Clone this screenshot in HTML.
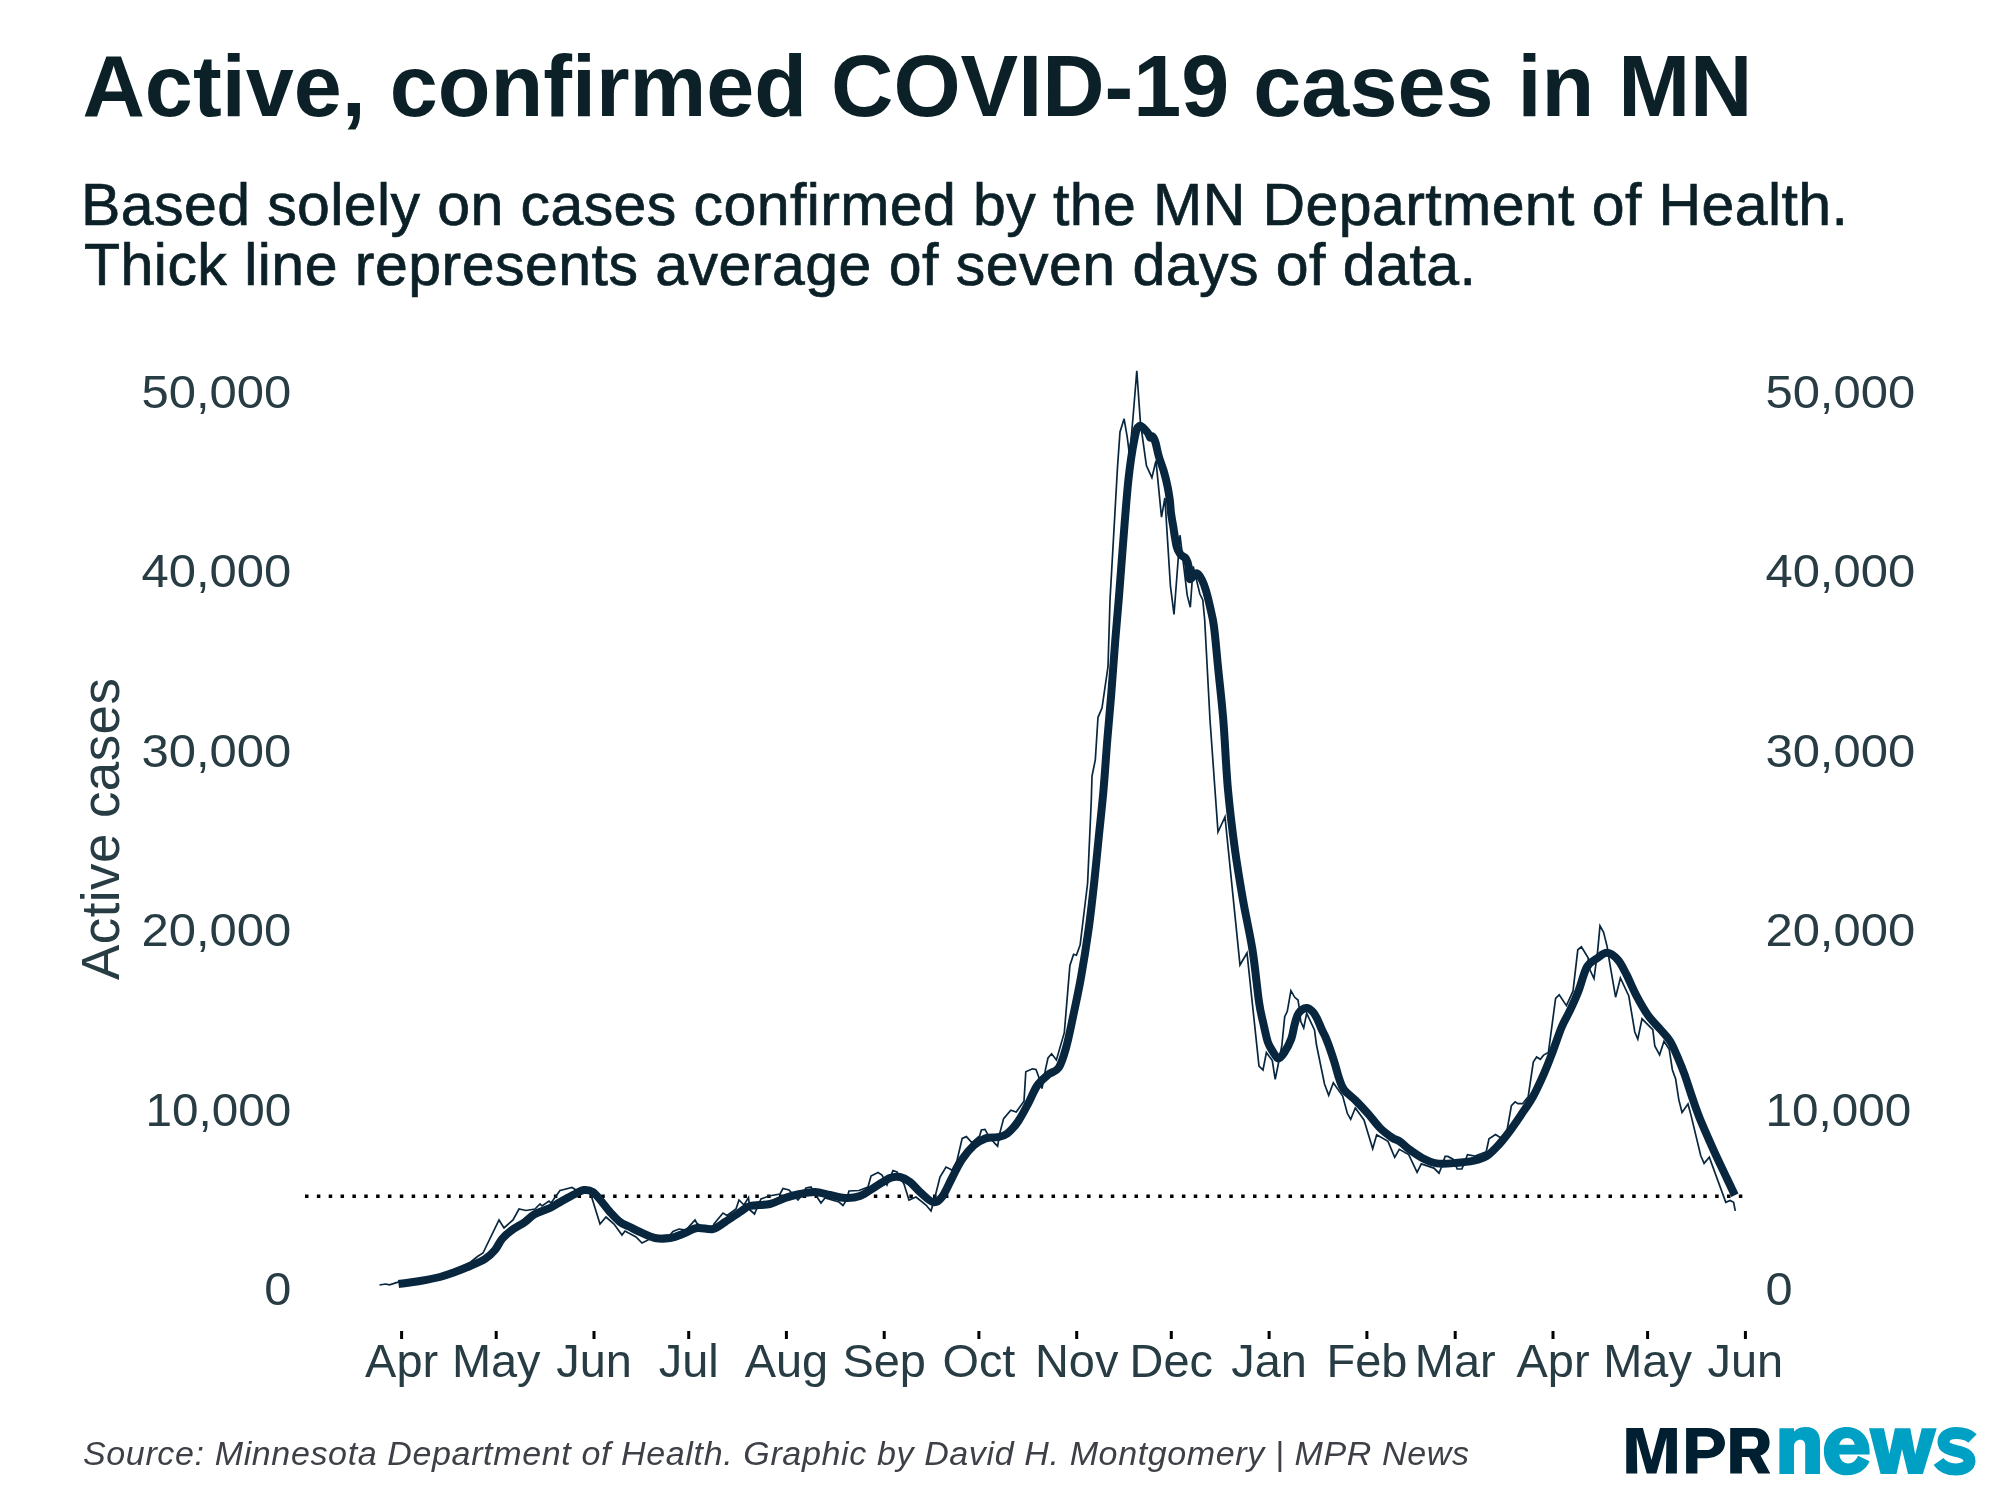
<!DOCTYPE html>
<html><head><meta charset="utf-8"><style>
html,body{margin:0;padding:0;background:#fff;width:2000px;height:1500px;overflow:hidden}
svg{display:block;will-change:transform}
text{font-family:"Liberation Sans",sans-serif}
.ax{font-size:46px;fill:#283c44}
.ay{font-size:46px;fill:#283c44}
</style></head><body>
<svg width="2000" height="1500" viewBox="0 0 2000 1500">
<rect width="2000" height="1500" fill="#fff"/>
<text x="82.5" y="116" font-size="87.4" font-weight="bold" fill="#0b2127" textLength="1670" lengthAdjust="spacingAndGlyphs">Active, confirmed COVID-19 cases in MN</text>
<text x="81" y="224.6" font-size="59" fill="#0b2127" stroke="#0b2127" stroke-width="0.7" textLength="1767" lengthAdjust="spacing">Based solely on cases confirmed by the MN Department of Health.</text>
<text x="84" y="284.7" font-size="59" fill="#0b2127" stroke="#0b2127" stroke-width="0.7" textLength="1392" lengthAdjust="spacing">Thick line represents average of seven days of data.</text>
<text transform="translate(119.4,980) rotate(-90)" x="0" y="0" font-size="53" fill="#283c44" textLength="302" lengthAdjust="spacing">Active cases</text>
<text transform="translate(291.3,1305.0) scale(1.06,1)" text-anchor="end" class="ay">0</text>
<text transform="translate(1765.4,1305.0) scale(1.06,1)" text-anchor="start" class="ay">0</text>
<text transform="translate(291.3,1125.6) scale(1.037,1)" text-anchor="end" class="ay">10,000</text>
<text transform="translate(1765.4,1125.6) scale(1.037,1)" text-anchor="start" class="ay">10,000</text>
<text transform="translate(291.3,946.2) scale(1.065,1)" text-anchor="end" class="ay">20,000</text>
<text transform="translate(1765.4,946.2) scale(1.065,1)" text-anchor="start" class="ay">20,000</text>
<text transform="translate(291.3,766.8) scale(1.065,1)" text-anchor="end" class="ay">30,000</text>
<text transform="translate(1765.4,766.8) scale(1.065,1)" text-anchor="start" class="ay">30,000</text>
<text transform="translate(291.3,587.4) scale(1.065,1)" text-anchor="end" class="ay">40,000</text>
<text transform="translate(1765.4,587.4) scale(1.065,1)" text-anchor="start" class="ay">40,000</text>
<text transform="translate(291.3,408.0) scale(1.065,1)" text-anchor="end" class="ay">50,000</text>
<text transform="translate(1765.4,408.0) scale(1.065,1)" text-anchor="start" class="ay">50,000</text>

<rect x="400.1" y="1331" width="3" height="8" fill="#000"/>
<rect x="494.7" y="1331" width="3" height="8" fill="#000"/>
<rect x="592.5" y="1331" width="3" height="8" fill="#000"/>
<rect x="687.2" y="1331" width="3" height="8" fill="#000"/>
<rect x="784.9" y="1331" width="3" height="8" fill="#000"/>
<rect x="882.7" y="1331" width="3" height="8" fill="#000"/>
<rect x="977.4" y="1331" width="3" height="8" fill="#000"/>
<rect x="1075.2" y="1331" width="3" height="8" fill="#000"/>
<rect x="1169.8" y="1331" width="3" height="8" fill="#000"/>
<rect x="1267.6" y="1331" width="3" height="8" fill="#000"/>
<rect x="1365.4" y="1331" width="3" height="8" fill="#000"/>
<rect x="1453.7" y="1331" width="3" height="8" fill="#000"/>
<rect x="1551.5" y="1331" width="3" height="8" fill="#000"/>
<rect x="1646.1" y="1331" width="3" height="8" fill="#000"/>
<rect x="1743.9" y="1331" width="3" height="8" fill="#000"/>

<text transform="translate(401.6,1377) scale(1.02,1)" text-anchor="middle" class="ax">Apr</text>
<text transform="translate(496.2,1377) scale(1.02,1)" text-anchor="middle" class="ax">May</text>
<text transform="translate(594.0,1377) scale(1.02,1)" text-anchor="middle" class="ax">Jun</text>
<text transform="translate(688.7,1377) scale(1.02,1)" text-anchor="middle" class="ax">Jul</text>
<text transform="translate(786.4,1377) scale(1.02,1)" text-anchor="middle" class="ax">Aug</text>
<text transform="translate(884.2,1377) scale(1.02,1)" text-anchor="middle" class="ax">Sep</text>
<text transform="translate(978.9,1377) scale(1.02,1)" text-anchor="middle" class="ax">Oct</text>
<text transform="translate(1076.7,1377) scale(1.02,1)" text-anchor="middle" class="ax">Nov</text>
<text transform="translate(1171.3,1377) scale(1.02,1)" text-anchor="middle" class="ax">Dec</text>
<text transform="translate(1269.1,1377) scale(1.02,1)" text-anchor="middle" class="ax">Jan</text>
<text transform="translate(1366.9,1377) scale(1.02,1)" text-anchor="middle" class="ax">Feb</text>
<text transform="translate(1455.2,1377) scale(1.02,1)" text-anchor="middle" class="ax">Mar</text>
<text transform="translate(1553.0,1377) scale(1.02,1)" text-anchor="middle" class="ax">Apr</text>
<text transform="translate(1647.6,1377) scale(1.02,1)" text-anchor="middle" class="ax">May</text>
<text transform="translate(1745.4,1377) scale(1.02,1)" text-anchor="middle" class="ax">Jun</text>

<line x1="305" y1="1196.3" x2="1745" y2="1196.3" stroke="#000" stroke-width="3.5" stroke-dasharray="3.5 8.35"/>
<path d="M379.5,1285.0 L385.5,1284.0 L389.5,1284.8 L398.0,1282.2 L420.0,1279.0 L440.0,1275.0 L455.0,1270.0 L470.0,1262.5 L477.5,1256.5 L483.0,1253.0 L499.0,1220.0 L504.0,1228.0 L513.0,1220.0 L519.0,1209.0 L526.0,1210.5 L535.0,1209.0 L540.0,1204.0 L542.0,1206.0 L549.0,1201.0 L551.0,1203.0 L560.0,1190.5 L562.0,1190.0 L572.0,1187.5 L576.0,1190.0 L584.0,1187.0 L591.0,1195.0 L600.0,1224.0 L606.0,1217.0 L614.0,1224.0 L622.0,1235.0 L625.0,1231.0 L636.0,1237.0 L642.0,1243.0 L646.0,1241.0 L655.0,1236.0 L670.0,1235.0 L673.0,1231.5 L679.0,1229.0 L686.0,1230.0 L695.0,1220.0 L697.0,1223.5 L705.0,1228.0 L713.0,1228.0 L714.0,1224.0 L723.0,1213.0 L727.0,1215.5 L736.0,1209.0 L739.0,1200.0 L744.0,1205.0 L748.5,1197.5 L750.0,1210.0 L754.5,1214.0 L757.0,1208.0 L761.0,1199.0 L769.0,1196.0 L780.0,1194.0 L783.0,1188.5 L789.0,1190.0 L798.0,1200.0 L800.0,1197.5 L806.0,1188.0 L811.0,1187.0 L817.0,1197.0 L821.0,1203.0 L825.0,1198.0 L839.0,1202.0 L843.0,1205.5 L846.0,1201.0 L849.0,1191.0 L859.0,1190.5 L868.0,1187.0 L871.0,1176.0 L878.0,1172.5 L882.0,1175.0 L887.0,1185.0 L893.0,1170.5 L897.0,1172.0 L904.0,1184.0 L909.0,1200.0 L916.0,1197.0 L926.0,1205.0 L931.0,1211.0 L935.0,1197.0 L940.0,1177.0 L946.0,1167.0 L950.0,1169.0 L952.0,1170.2 L956.8,1161.2 L962.2,1138.4 L966.4,1136.6 L971.8,1142.6 L979.6,1136.0 L981.4,1130.0 L985.0,1129.4 L988.0,1134.8 L994.6,1143.2 L997.6,1146.2 L1000.0,1132.4 L1003.6,1118.6 L1010.8,1110.2 L1016.2,1112.0 L1024.0,1101.2 L1025.8,1071.8 L1032.4,1068.8 L1036.0,1069.4 L1038.4,1076.0 L1042.0,1088.6 L1045.6,1068.8 L1048.0,1058.0 L1051.6,1053.8 L1056.4,1060.0 L1064.3,1032.7 L1069.9,965.5 L1073.6,954.3 L1076.4,955.2 L1080.1,945.0 L1087.6,883.3 L1091.3,800.0 L1092.0,776.0 L1095.3,760.0 L1098.0,717.3 L1102.0,708.0 L1108.0,666.7 L1110.0,600.0 L1117.6,465.6 L1120.0,432.0 L1124.1,418.8 L1127.2,436.8 L1129.6,456.0 L1133.2,415.2 L1136.8,370.8 L1140.4,422.4 L1146.4,465.6 L1151.9,477.6 L1156.0,460.8 L1161.5,517.2 L1164.9,498.0 L1170.4,585.6 L1174.0,614.4 L1180.0,535.2 L1187.2,595.2 L1190.3,607.2 L1193.2,566.4 L1199.9,594.0 L1202.8,600.0 L1204.7,620.0 L1210.0,720.0 L1215.0,790.0 L1218.0,832.0 L1225.0,817.0 L1240.0,965.0 L1247.0,953.0 L1259.0,1066.0 L1263.0,1070.0 L1266.4,1052.6 L1272.3,1060.6 L1275.2,1079.3 L1278.1,1065.0 L1281.8,1046.0 L1284.7,1016.7 L1287.3,1011.3 L1290.9,990.7 L1294.7,997.3 L1298.0,1000.0 L1299.3,1008.0 L1300.7,1021.3 L1303.7,1028.0 L1306.7,1013.3 L1314.5,1030.0 L1316.5,1045.0 L1324.5,1084.0 L1328.7,1095.3 L1333.3,1082.7 L1342.7,1096.0 L1347.3,1113.3 L1350.7,1119.3 L1355.3,1108.0 L1364.0,1120.0 L1372.7,1148.7 L1376.7,1134.7 L1388.0,1141.3 L1394.7,1157.3 L1399.3,1149.3 L1408.7,1154.6 L1417.1,1172.3 L1421.3,1163.9 L1433.9,1168.1 L1439.0,1173.2 L1441.4,1167.2 L1445.1,1156.4 L1447.9,1156.4 L1453.0,1159.2 L1457.2,1169.0 L1461.9,1169.0 L1467.5,1154.6 L1475.0,1156.0 L1486.2,1151.8 L1489.0,1138.7 L1495.5,1134.5 L1500.6,1137.8 L1506.7,1132.2 L1511.4,1105.6 L1515.1,1101.8 L1517.9,1103.7 L1522.6,1103.7 L1528.2,1096.7 L1533.3,1062.1 L1536.6,1057.0 L1540.3,1059.3 L1543.6,1055.1 L1548.4,1052.4 L1555.6,998.4 L1559.2,994.8 L1566.4,1005.6 L1573.0,991.2 L1577.8,949.8 L1581.4,946.8 L1588.0,957.6 L1589.8,969.6 L1594.0,978.6 L1597.6,951.6 L1600.0,925.8 L1603.6,932.4 L1607.2,946.8 L1609.6,962.4 L1615.6,997.2 L1620.4,978.0 L1628.8,996.0 L1634.8,1032.0 L1637.8,1039.2 L1642.0,1018.8 L1652.8,1029.6 L1654.8,1046.0 L1659.6,1054.8 L1664.0,1041.2 L1669.2,1049.2 L1672.4,1070.0 L1675.6,1078.8 L1678.8,1099.6 L1682.0,1112.4 L1688.0,1104.0 L1691.1,1115.6 L1700.7,1155.5 L1704.1,1163.3 L1709.3,1157.2 L1725.8,1202.3 L1730.1,1200.5 L1733.6,1202.3 L1735.3,1210.9" fill="none" stroke="#08273f" stroke-width="1.7" stroke-linejoin="miter"/>
<path d="M398.5,1284.0 C402.1,1283.5 413.1,1282.2 420.0,1281.0 C426.9,1279.8 434.2,1278.5 440.0,1277.0 C445.8,1275.5 450.0,1273.8 455.0,1272.0 C460.0,1270.2 465.0,1268.2 470.0,1266.0 C475.0,1263.8 480.8,1261.7 485.0,1259.0 C489.2,1256.3 492.2,1253.3 495.0,1250.0 C497.8,1246.7 499.2,1242.3 502.0,1239.0 C504.8,1235.7 508.2,1232.8 512.0,1230.0 C515.8,1227.2 521.2,1224.7 525.0,1222.0 C528.8,1219.3 530.8,1216.3 535.0,1214.0 C539.2,1211.7 545.5,1210.2 550.0,1208.0 C554.5,1205.8 557.8,1203.3 562.0,1201.0 C566.2,1198.7 571.3,1195.8 575.0,1194.0 C578.7,1192.2 581.0,1190.3 584.0,1190.0 C587.0,1189.7 590.0,1190.0 593.0,1192.0 C596.0,1194.0 599.2,1198.7 602.0,1202.0 C604.8,1205.3 607.0,1208.7 610.0,1212.0 C613.0,1215.3 616.7,1219.5 620.0,1222.0 C623.3,1224.5 626.7,1225.3 630.0,1227.0 C633.3,1228.7 635.8,1230.2 640.0,1232.0 C644.2,1233.8 650.0,1237.0 655.0,1238.0 C660.0,1239.0 665.0,1238.8 670.0,1238.0 C675.0,1237.2 680.5,1234.7 685.0,1233.0 C689.5,1231.3 692.3,1228.7 697.0,1228.0 C701.7,1227.3 708.3,1230.0 713.0,1229.0 C717.7,1228.0 720.5,1224.8 725.0,1222.0 C729.5,1219.2 735.8,1214.7 740.0,1212.0 C744.2,1209.3 745.0,1207.3 750.0,1206.0 C755.0,1204.7 764.2,1205.3 770.0,1204.0 C775.8,1202.7 780.0,1199.7 785.0,1198.0 C790.0,1196.3 795.0,1195.0 800.0,1194.0 C805.0,1193.0 810.0,1191.8 815.0,1192.0 C820.0,1192.2 825.0,1194.0 830.0,1195.0 C835.0,1196.0 840.0,1197.8 845.0,1198.0 C850.0,1198.2 855.0,1197.8 860.0,1196.0 C865.0,1194.2 870.0,1190.0 875.0,1187.0 C880.0,1184.0 885.8,1179.7 890.0,1178.0 C894.2,1176.3 896.7,1176.3 900.0,1177.0 C903.3,1177.7 906.7,1179.5 910.0,1182.0 C913.3,1184.5 916.2,1188.7 920.0,1192.0 C923.8,1195.3 929.3,1201.2 933.0,1202.0 C936.7,1202.8 938.8,1201.0 942.0,1197.0 C945.2,1193.0 948.7,1184.2 952.0,1178.0 C955.3,1171.8 958.0,1165.4 961.6,1160.0 C965.2,1154.6 969.6,1149.2 973.6,1145.6 C977.6,1142.0 981.6,1139.8 985.6,1138.4 C989.6,1137.0 994.0,1138.0 997.6,1137.2 C1001.2,1136.4 1003.8,1136.2 1007.2,1133.6 C1010.6,1131.0 1014.4,1126.8 1018.0,1121.6 C1021.6,1116.4 1025.6,1108.4 1028.8,1102.4 C1032.0,1096.4 1034.0,1090.2 1037.2,1085.6 C1040.4,1081.0 1044.4,1077.8 1048.0,1074.8 C1051.6,1071.8 1055.8,1072.1 1058.8,1067.6 C1061.8,1063.1 1063.6,1056.5 1066.1,1047.6 C1068.6,1038.7 1071.1,1025.8 1073.6,1014.0 C1076.1,1002.2 1078.6,990.7 1081.1,976.7 C1083.6,962.7 1086.3,945.6 1088.5,930.0 C1090.7,914.4 1092.4,898.8 1094.1,883.3 C1095.8,867.8 1097.2,852.2 1098.8,836.7 C1100.4,821.2 1102.1,806.1 1103.5,790.0 C1104.9,773.9 1106.0,756.1 1107.3,740.0 C1108.6,723.9 1110.0,710.0 1111.3,693.3 C1112.6,676.6 1114.1,655.5 1115.3,640.0 C1116.5,624.5 1117.5,614.7 1118.7,600.0 C1119.9,585.3 1120.8,572.0 1122.4,552.0 C1124.0,532.0 1126.4,498.8 1128.4,480.0 C1130.4,461.2 1132.6,448.2 1134.4,439.2 C1136.2,430.2 1137.0,427.1 1139.2,426.0 C1141.4,424.9 1145.7,430.6 1147.5,432.5 C1149.3,434.4 1149.2,436.8 1150.0,437.5 C1150.8,438.2 1151.6,435.7 1152.5,436.5 C1153.4,437.3 1154.5,439.2 1155.5,442.5 C1156.5,445.8 1157.4,451.3 1158.7,456.0 C1160.0,460.7 1162.1,465.6 1163.6,470.7 C1165.1,475.8 1166.6,481.8 1167.6,486.7 C1168.6,491.6 1169.2,495.6 1169.8,500.0 C1170.4,504.4 1170.4,508.6 1171.0,513.0 C1171.6,517.5 1172.3,521.1 1173.3,526.7 C1174.2,532.3 1175.5,542.0 1176.7,546.7 C1177.9,551.4 1179.2,552.7 1180.7,554.7 C1182.2,556.7 1184.7,556.7 1186.0,558.7 C1187.3,560.8 1188.1,563.6 1188.7,567.0 C1189.3,570.4 1188.5,578.0 1189.8,579.0 C1191.1,580.0 1194.7,573.1 1196.7,573.3 C1198.7,573.5 1200.5,577.1 1202.0,580.0 C1203.5,582.9 1204.7,586.2 1206.0,590.7 C1207.3,595.2 1208.7,600.7 1210.0,606.7 C1211.3,612.7 1212.7,616.7 1214.0,626.7 C1215.3,636.7 1216.5,651.2 1218.0,666.7 C1219.5,682.2 1221.6,699.5 1223.3,720.0 C1225.0,740.5 1226.0,768.3 1228.0,790.0 C1230.0,811.7 1232.5,831.7 1235.0,850.0 C1237.5,868.3 1240.1,883.3 1243.0,900.0 C1245.9,916.7 1249.8,933.0 1252.5,950.0 C1255.2,967.0 1257.2,989.7 1259.0,1002.0 C1260.8,1014.3 1262.0,1017.3 1263.5,1024.0 C1265.0,1030.7 1266.3,1037.7 1267.9,1042.3 C1269.5,1046.9 1271.3,1049.1 1273.0,1051.8 C1274.7,1054.5 1276.3,1058.3 1278.1,1058.5 C1279.9,1058.7 1281.8,1056.3 1284.0,1053.0 C1286.2,1049.7 1289.5,1043.4 1291.3,1038.7 C1293.0,1034.0 1293.3,1029.3 1294.5,1025.0 C1295.7,1020.7 1296.7,1015.8 1298.7,1013.0 C1300.7,1010.2 1304.1,1008.2 1306.5,1008.0 C1308.9,1007.8 1311.1,1010.0 1313.0,1012.0 C1314.9,1014.0 1316.2,1017.0 1317.7,1020.0 C1319.2,1023.0 1320.5,1026.7 1322.0,1030.0 C1323.5,1033.3 1324.8,1035.0 1326.7,1040.0 C1328.7,1045.0 1331.7,1053.7 1333.7,1060.0 C1335.8,1066.3 1337.3,1073.1 1339.0,1078.0 C1340.7,1082.9 1341.2,1085.8 1344.0,1089.6 C1346.8,1093.4 1352.0,1096.8 1356.0,1100.8 C1360.0,1104.8 1364.0,1109.1 1368.0,1113.6 C1372.0,1118.1 1376.0,1124.0 1380.0,1128.0 C1384.0,1132.0 1388.7,1135.3 1392.0,1137.6 C1395.3,1139.9 1397.2,1139.7 1400.0,1141.6 C1402.8,1143.5 1404.9,1146.2 1408.7,1149.0 C1412.5,1151.8 1418.0,1155.9 1422.7,1158.3 C1427.4,1160.7 1431.2,1162.6 1436.7,1163.4 C1442.2,1164.2 1449.2,1163.5 1455.4,1163.0 C1461.6,1162.5 1468.9,1161.7 1474.0,1160.6 C1479.1,1159.5 1482.3,1158.8 1486.2,1156.4 C1490.1,1154.0 1493.8,1149.9 1497.4,1146.2 C1501.0,1142.5 1503.7,1139.1 1507.6,1134.0 C1511.5,1128.9 1516.5,1121.6 1520.7,1115.4 C1524.9,1109.2 1529.0,1103.7 1532.9,1096.7 C1536.8,1089.7 1540.9,1080.5 1544.1,1073.3 C1547.3,1066.1 1549.1,1061.3 1552.0,1053.6 C1554.9,1045.9 1558.6,1034.4 1561.6,1027.2 C1564.6,1020.0 1567.2,1016.4 1570.0,1010.4 C1572.8,1004.4 1575.6,998.4 1578.4,991.2 C1581.2,984.0 1583.8,972.6 1586.8,967.2 C1589.8,961.8 1593.0,961.2 1596.4,958.8 C1599.8,956.4 1603.6,952.6 1607.2,952.8 C1610.8,953.0 1614.8,956.4 1618.0,960.0 C1621.2,963.6 1623.4,968.6 1626.4,974.4 C1629.4,980.2 1632.4,988.0 1636.0,994.8 C1639.6,1001.6 1644.0,1009.5 1648.0,1015.2 C1652.0,1020.9 1656.3,1024.7 1660.0,1029.0 C1663.7,1033.3 1667.0,1036.2 1670.0,1041.0 C1673.0,1045.8 1675.6,1052.5 1678.0,1058.0 C1680.4,1063.5 1682.1,1067.7 1684.4,1074.0 C1686.7,1080.3 1689.1,1088.3 1691.6,1095.6 C1694.1,1102.9 1695.9,1108.9 1699.6,1118.0 C1703.3,1127.1 1709.2,1140.3 1713.7,1150.3 C1718.2,1160.3 1723.2,1170.5 1726.7,1178.0 C1730.2,1185.5 1733.5,1192.4 1734.9,1195.3" fill="none" stroke="#08273f" stroke-width="8" stroke-linejoin="round" stroke-linecap="butt"/>
<text x="83" y="1465" font-size="34" font-style="italic" fill="#3d4047" textLength="1386" lengthAdjust="spacing">Source: Minnesota Department of Health. Graphic by David H. Montgomery | MPR News</text>
<g fill="#001f30" fill-rule="evenodd">
<path d="M1626.25,1428 L1642.9,1428 L1651.5,1460 L1660,1428 L1676.9,1428 L1676.9,1473.5 L1665.9,1473.5 L1666.5,1437.5 L1656.4,1473.5 L1646.8,1473.5 L1636.6,1437.5 L1637.3,1473.5 L1626.25,1473.5 Z"/>
<path d="M1686.1,1428 H1706.8 C1717.5,1428 1725,1434.5 1725,1443.1 C1725,1451.7 1717.5,1458.2 1706.8,1458.2 H1697.4 V1473.5 H1686.1 Z M1697.4,1436.6 H1706 C1711,1436.6 1714,1439.5 1714,1443.4 C1714,1447.2 1711,1450.1 1706,1450.1 H1697.4 Z"/>
<path d="M1730.2,1428 H1754.5 C1764,1428 1769.6,1434 1769.6,1442.5 C1769.6,1449 1766,1453.5 1760.5,1455.5 L1770.3,1473.5 H1758.1 L1749.1,1456.9 H1741.9 V1473.5 H1730.2 Z M1741.9,1436.6 H1753.5 C1756.5,1436.6 1758.1,1439.5 1758.1,1442.7 C1758.1,1446 1756.5,1448.75 1753.5,1448.75 H1741.9 Z"/>
</g>
<g fill="#009fc4" fill-rule="evenodd">
<path d="M1779.4,1428.2 H1794 V1431.5 C1797,1428.5 1801,1427.1 1806,1427.1 C1815,1427.1 1820,1432.5 1820,1441.5 V1473.9 H1805.2 V1445.5 C1805.2,1442 1803.5,1439.75 1800.5,1439.75 C1797,1439.75 1794,1442.2 1794,1446.2 V1473.9 H1779.4 Z"/>
<path d="M1869.6,1454.6 H1839.3 C1840,1460 1843.5,1463.4 1848.1,1463.4 C1852.5,1463.4 1856,1460.5 1858,1455.7 L1869.6,1461.2 C1866,1469.5 1858,1475.3 1847,1475.3 C1833,1475.3 1823.9,1465 1823.9,1451.2 C1823.9,1437.5 1833.5,1427.1 1846.5,1427.1 C1860,1427.1 1869.6,1437 1869.6,1451 Z M1839.3,1444.7 H1854.7 C1854,1441 1851.5,1438.1 1847,1438.1 C1843,1438.1 1840,1441 1839.3,1444.7 Z"/>
<path d="M1869,1428.2 L1883.9,1428.2 L1889.4,1454 L1894.9,1428.2 L1910.3,1428.2 L1915.2,1454.6 L1921.8,1428.2 L1936.7,1428.2 L1922.9,1473.9 L1908,1473.9 L1902,1449.1 L1896.5,1473.9 L1880.6,1473.9 Z"/>
</g>
<path d="M1972.5,1438.5 C1968,1434 1962,1433 1956,1433 C1948,1433 1943.5,1437 1943.5,1442 C1943.5,1448 1950,1449.5 1956,1451 C1963,1452.5 1969.5,1454.5 1969.5,1461 C1969.5,1466.5 1963,1469.5 1956,1469.5 C1948,1469.5 1942,1466.5 1938.5,1461.5" fill="none" stroke="#009fc4" stroke-width="12"/>

</svg>
</body></html>
